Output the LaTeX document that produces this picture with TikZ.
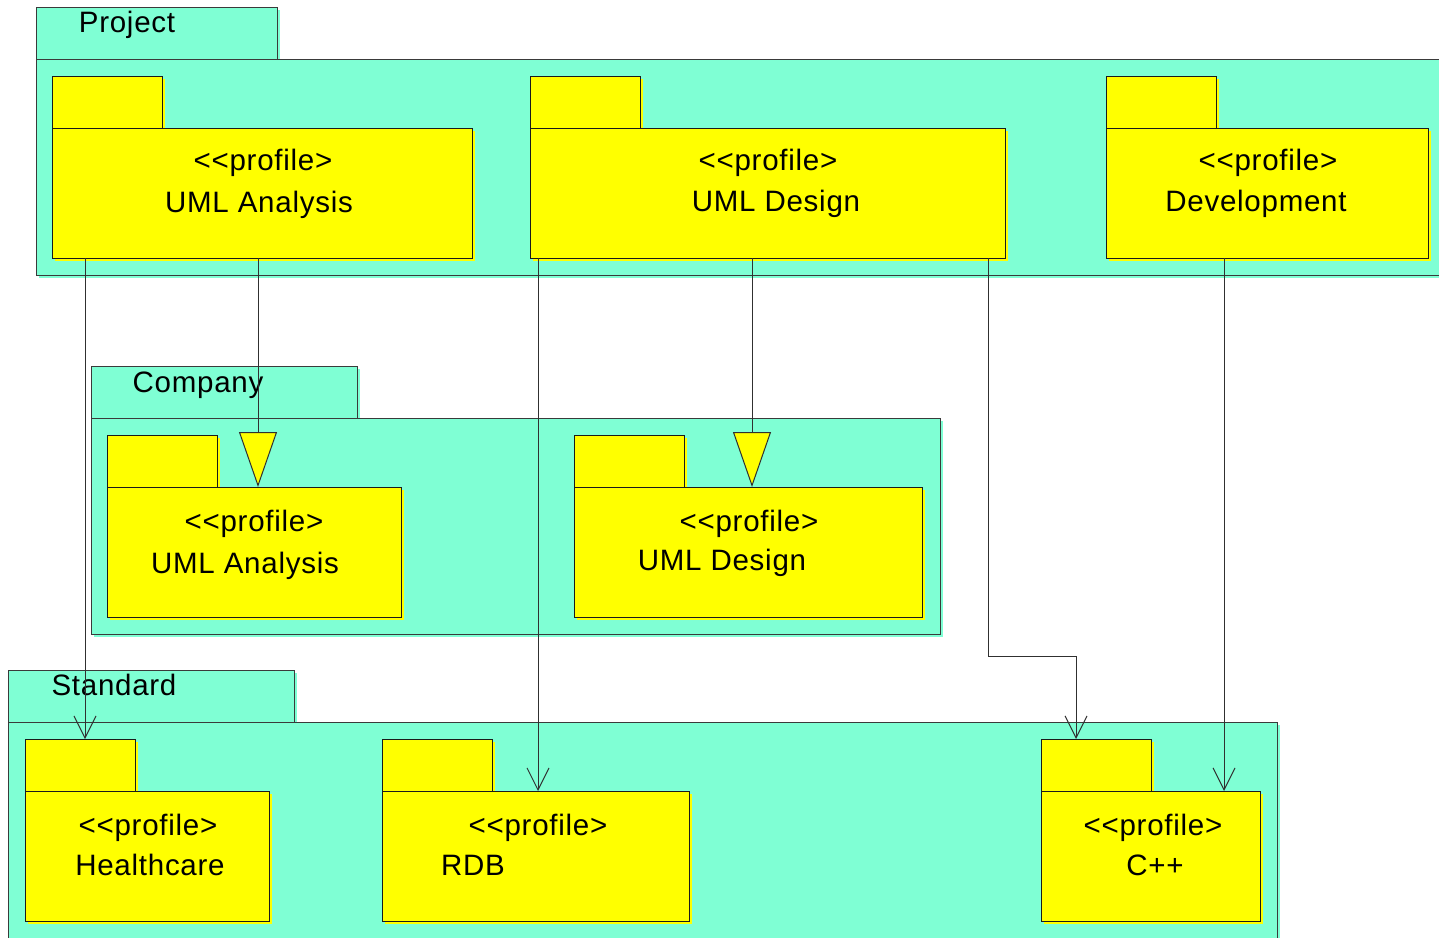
\documentclass[tikz,border=0pt]{standalone}
\usepackage{fontspec}
\setmainfont{Liberation Sans}[Ligatures=TeXOff,LetterSpace=2.5]
\usetikzlibrary{arrows.meta,calc,shadows}
\definecolor{aqua}{HTML}{7FFFD4}
\definecolor{pkgyellow}{HTML}{FFFF00}
\definecolor{contline}{HTML}{3A3A3A}
\definecolor{pkgline}{HTML}{1A1A1A}
\definecolor{wire}{HTML}{303030}

\begin{document}
\begin{tikzpicture}[x=1pt,y=-1pt,
  box/.style={rectangle, inner sep=0pt, outer sep=0pt, anchor=north west},
  cont/.style={box, draw=contline, fill=aqua, line width=1pt,
    drop shadow={shadow xshift=3pt, shadow yshift=-3pt, fill=aqua, opacity=1}},
  pkg/.style={box, draw=pkgline, fill=pkgyellow, line width=1pt,
    drop shadow={shadow xshift=3pt, shadow yshift=-3pt, fill=pkgyellow, opacity=1}},
  tabbox/.style={minimum width=110pt, minimum height=52pt},
  lbl/.style={anchor=base, inner sep=0pt, font=\fontsize{29.5}{34}\selectfont},
  dep/.style={draw=wire, line width=1pt, -{Straight Barb[length=22pt,width=22pt]}},
  gen/.style={draw=wire, line width=1pt, -{Triangle[length=55pt,width=38pt,fill=pkgyellow]}}
]
\useasboundingbox (0,0) rectangle (1439,937);
\clip (0,0) rectangle (1439,937);

% ---------- Project ----------
\node[cont, minimum width=241pt, minimum height=52pt] (projT) at (36,7) {};
\node[cont, minimum width=1420pt, minimum height=216pt] (proj) at (36,59) {};
\node[lbl] (projL) at (127,32) {Project};

\node[pkg, tabbox] (paT) at (52,76) {};
\node[pkg, minimum width=420pt, minimum height=130pt] (pa) at (52,128) {};
\node[lbl] (paS) at (263,170) {<<profile>};
\node[lbl] (paN) at (259,212) {UML Analysis};

\node[pkg, tabbox] (pdT) at (530,76) {};
\node[pkg, minimum width=475pt, minimum height=130pt] (pd) at (530,128) {};
\node[lbl] (pdS) at (768,170) {<<profile>};
\node[lbl] (pdN) at (776,211) {UML Design};

\node[pkg, tabbox] (devT) at (1106,76) {};
\node[pkg, minimum width=322pt, minimum height=130pt] (dev) at (1106,128) {};
\node[lbl] (devS) at (1268,170) {<<profile>};
\node[lbl] (devN) at (1256,211) {Development};

% ---------- Company ----------
\node[cont, minimum width=266pt, minimum height=52pt] (compT) at (91,366) {};
\node[cont, minimum width=849pt, minimum height=216pt] (comp) at (91,418) {};
\node[lbl] (compL) at (198,392) {Company};

\node[pkg, tabbox] (caT) at (107,435) {};
\node[pkg, minimum width=294pt, minimum height=130pt] (ca) at (107,487) {};
\node[lbl] (caS) at (254,531) {<<profile>};
\node[lbl] (caN) at (245,573) {UML Analysis};

\node[pkg, tabbox] (cdT) at (574,435) {};
\node[pkg, minimum width=348pt, minimum height=130pt] (cd) at (574,487) {};
\node[lbl] (cdS) at (749,531) {<<profile>};
\node[lbl] (cdN) at (722,570) {UML Design};

% ---------- Standard ----------
\node[cont, minimum width=286pt, minimum height=52pt] (stdT) at (8,670) {};
\node[cont, minimum width=1269pt, minimum height=230pt] (std) at (8,722) {};
\node[lbl] (stdL) at (114,695) {Standard};

\node[pkg, tabbox] (hcT) at (25,739) {};
\node[pkg, minimum width=244pt, minimum height=130pt] (hc) at (25,791) {};
\node[lbl] (hcS) at (148,835) {<<profile>};
\node[lbl] (hcN) at (150,875) {Healthcare};

\node[pkg, tabbox] (rdbT) at (382,739) {};
\node[pkg, minimum width=307pt, minimum height=130pt] (rdb) at (382,791) {};
\node[lbl] (rdbS) at (538,835) {<<profile>};
\node[lbl] (rdbN) at (473,875) {RDB};

\node[pkg, tabbox] (cppT) at (1041,739) {};
\node[pkg, minimum width=219pt, minimum height=130pt] (cpp) at (1041,791) {};
\node[lbl] (cppS) at (1153,835) {<<profile>};
\node[lbl] (cppN) at (1155,875) {C++};

% ---------- Dependencies and generalizations ----------
\draw[dep] ([xshift=33pt]pa.south west) -- ([xshift=60pt]hcT.north west);
\draw[gen] ([xshift=206pt]pa.south west) -- ([xshift=151pt]ca.north west);
\draw[dep] ([xshift=8pt]pd.south west) -- ([xshift=156pt]rdb.north west);
\draw[gen] ([xshift=222pt]pd.south west) -- ([xshift=178pt]cd.north west);
\coordinate (bend) at (1076,656);
\draw[dep] ([xshift=458pt]pd.south west) |- (bend) -- ([xshift=35pt]cppT.north west);
\draw[dep] ([xshift=118pt]dev.south west) -- ([xshift=183pt]cpp.north west);
\end{tikzpicture}
\end{document}
